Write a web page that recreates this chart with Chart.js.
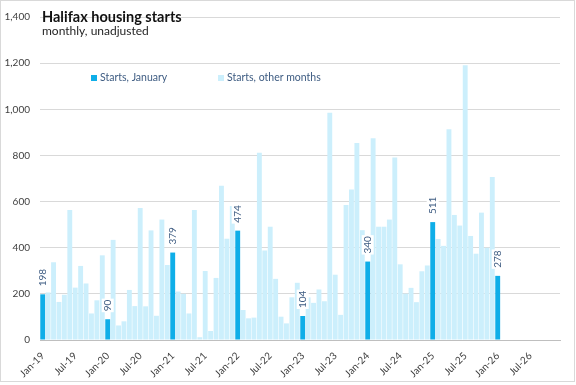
<!DOCTYPE html>
<html>
<head>
<meta charset="utf-8">
<script src="https://cdn.jsdelivr.net/npm/chart.js@4.4.1/dist/chart.umd.min.js"></script>
<style>
    body { margin: 0; background: #fff; }
    .frame {
        width: 575px;
        height: 382px;
        border: 1px solid #d9d9d9;
        box-sizing: border-box;
    }
    canvas { display: block; }
</style>
</head>
<body>
<div class="frame">
    <canvas id="starts-chart" width="573" height="380"></canvas>
</div>
<script>
// halifax housing starts, Jan-19 to Jan-26
const monthNames = ['Jan', 'Feb', 'Mar', 'Apr', 'May', 'Jun', 'Jul', 'Aug', 'Sep', 'Oct', 'Nov', 'Dec'];
const years = ['19', '20', '21', '22', '23', '24', '25', '26'];

const starts = [
    198, 206, 337, 165, 196, 564, 227, 321, 245, 115, 172, 367,
    90, 434, 63, 81, 217, 147, 572, 146, 475, 105, 522, 325,
    379, 210, 200, 115, 564, 12, 299, 39, 269, 669, 439, 581,
    474, 130, 94, 97, 812, 388, 491, 265, 101, 72, 185, 248,
    104, 185, 161, 219, 168, 985, 283, 109, 585, 652, 854, 476,
    340, 875, 491, 491, 522, 791, 328, 201, 226, 164, 298, 323,
    511, 438, 408, 913, 542, 496, 1191, 451, 374, 552, 400, 707,
    278
];

const yTicks = [0, 200, 400, 600, 800, 1000, 1200, 1400];

const categories = [];
years.forEach(y => monthNames.forEach(m => categories.push(m + '-' + y)));

const january = categories.map((c, i) => (i % 12 === 0 && i < starts.length) ? starts[i] : null);
const otherMonths = categories.map((c, i) => (i % 12 !== 0 && i < starts.length) ? starts[i] : null);

const janColor = '#0FAEE8';
const otherColor = '#CCEFFC';
const labelColor = '#3E5C82';

// title, subtitle, legend and january labels
const overlay = {
    id: 'overlay',
    afterDatasetsDraw(chart) {
        const c = chart.ctx;
        c.save();

        // january data labels, vertical with white box
        c.font = '10px Lato';
        const meta = chart.getDatasetMeta(0);
        meta.data.forEach((bar, i) => {
            const v = january[i];
            if (v === null) return;
            const txt = String(v);
            const w = c.measureText(txt).width;
            c.save();
            c.translate(bar.x, bar.y - 8);
            c.rotate(-Math.PI / 2);
            c.fillStyle = '#fff';
            c.fillRect(-1, -6, w + 2, 12);
            c.fillStyle = labelColor;
            c.textAlign = 'left';
            c.textBaseline = 'middle';
            c.fillText(txt, 0, 0);
            c.restore();
        });

        // title
        c.fillStyle = '#111';
        c.textAlign = 'left';
        c.textBaseline = 'alphabetic';
        c.font = 'bold 14.5px Lato';
        c.fillText('Halifax housing starts', 41, 21);
        c.fillStyle = '#262626';
        c.font = '12px Lato';
        c.fillText('monthly, unadjusted', 41, 34);

        // legend
        c.font = '10.5px Lato';
        c.textBaseline = 'middle';
        const items = [
            { x: 90, color: janColor, text: chart.data.datasets[0].label },
            { x: 217, color: otherColor, text: chart.data.datasets[1].label }
        ];
        items.forEach(it => {
            c.fillStyle = it.color;
            c.fillRect(it.x, 74, 6, 6);
            c.fillStyle = labelColor;
            c.fillText(it.text, it.x + 9, 77);
        });
        c.restore();
    }
};

const ctx = document.getElementById('starts-chart');

new Chart(ctx, {
    type: 'bar',
    data: {
        labels: categories,
        datasets: [
            {
                label: 'Starts, January',
                data: january,
                backgroundColor: janColor,
                grouped: false,
                barPercentage: 0.9,
                categoryPercentage: 1.0,
                order: 0
            },
            {
                label: 'Starts, other months',
                data: otherMonths,
                backgroundColor: otherColor,
                grouped: false,
                barPercentage: 0.9,
                categoryPercentage: 1.0,
                order: 1
            }
        ]
    },
    options: {
        responsive: false,
        animation: false,
        layout: {
            padding: { top: 6, right: 14, bottom: 0, left: 0 }
        },
        plugins: {
            legend: { display: false },
            tooltip: { enabled: false }
        },
        scales: {
            x: {
                grid: { display: false },
                border: { color: '#bfbfbf' },
                ticks: {
                    autoSkip: false,
                    maxRotation: 45,
                    minRotation: 45,
                    color: '#404040',
                    font: { family: 'Lato', size: 10 },
                    padding: 2,
                    callback: function (value, index) {
                        return index % 6 === 0 ? categories[index] : null;
                    }
                },
                afterFit: function (scale) { scale.height = 41; }
            },
            y: {
                min: 0,
                max: 1400,
                afterBuildTicks: function (scale) {
                    scale.ticks = yTicks.map(v => ({ value: v }));
                },
                grid: { color: '#d9d9d9', drawTicks: false },
                border: { display: false },
                ticks: {
                    color: '#404040',
                    font: { family: 'Lato', size: 10 },
                    padding: 10,
                    callback: function (value) { return value.toLocaleString('en-US'); }
                },
                afterFit: function (scale) { scale.width = 39; }
            }
        }
    },
    plugins: [overlay]
});
</script>
</body>
</html>
